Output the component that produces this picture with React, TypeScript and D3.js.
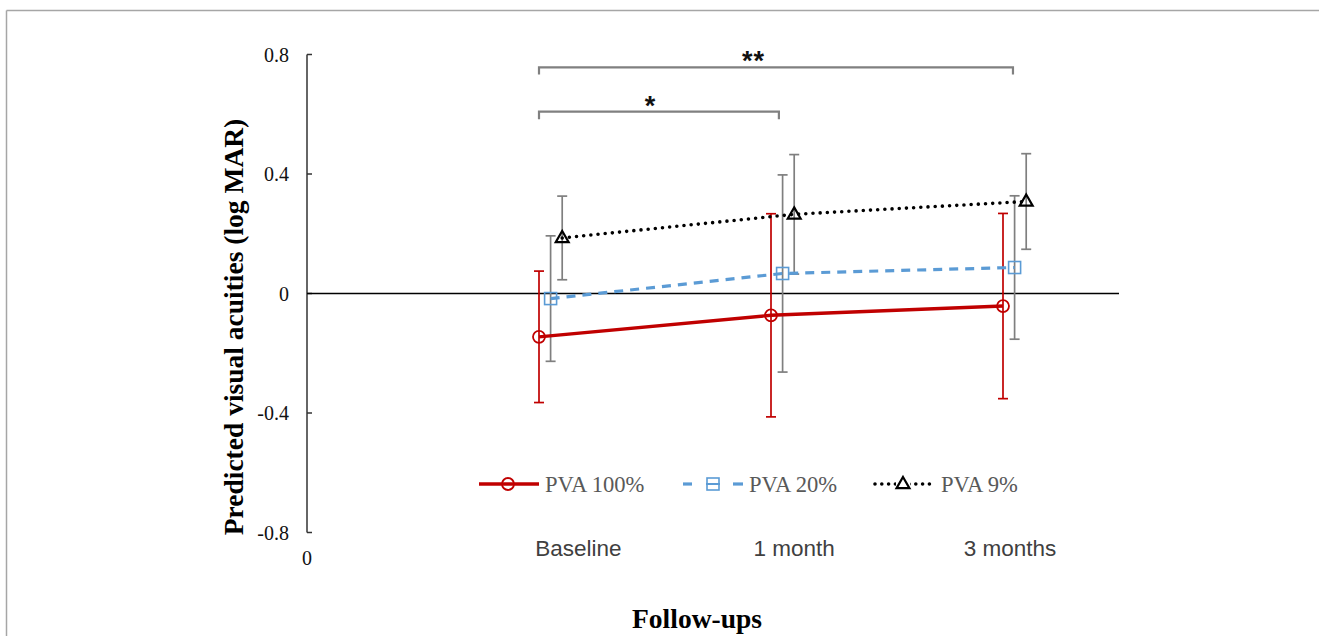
import React from 'react';
import * as d3 from 'd3';

const categories = ['Baseline', '1 month', '3 months'];
const categoryX = [1, 2, 3];
const categoryLabelX = [1.17, 2.1, 3.03];

const seriesNames = ['PVA 100%', 'PVA 20%', 'PVA 9%'];
const pva100Mean = [-0.145, -0.073, -0.042];
const pva100Err = [0.22, 0.34, 0.31];
const pva20Mean = [-0.017, 0.067, 0.087];
const pva20Err = [0.21, 0.33, 0.24];
const pva9Mean = [0.186, 0.265, 0.308];
const pva9Err = [0.14, 0.2, 0.16];
const seriesOffset = [0, 0.05, 0.1];

const yTicks = [-0.8, -0.4, 0, 0.4, 0.8];

// significance brackets: x from/to, y of bar, y of the end drops, label
const bracketFrom = [1, 1];
const bracketTo = [3.043, 2.034];
const bracketY = [0.757, 0.609];
const bracketEndY = [0.733, 0.583];
const bracketLabel = ['**', '*'];
const bracketLabelX = [1.925, 1.478];
const bracketLabelY = [0.8, 0.648];

const width = 1319;
const height = 636;

const x = d3.scaleLinear().domain([0, 3.5]).range([307, 1119]);
const y = d3.scaleLinear().domain([-0.8, 0.8]).range([532.5, 54.5]);

const styles = [
  { color: '#C00000', bar: '#C00000', dash: undefined as string | undefined, cap: 'butt', w: 3.4 },
  { color: '#5B9BD5', bar: '#7F7F7F', dash: '9 7', cap: 'butt', w: 3.2 },
  { color: '#000000', bar: '#7F7F7F', dash: '0 7.2', cap: 'round', w: 3.6 },
];

const serif = '"Liberation Serif", "Times New Roman", serif';
const sans = '"Liberation Sans", Arial, sans-serif';

function Marker({ kind, cx, cy, color }: { kind: number; cx: number; cy: number; color: string }) {
  if (kind === 0) return <circle cx={cx} cy={cy} r={6} fill="none" stroke={color} strokeWidth={1.8} />;
  if (kind === 1) return <rect x={cx - 6} y={cy - 6} width={12} height={12} fill="none" stroke={color} strokeWidth={1.6} />;
  const sym = d3.symbol(d3.symbolTriangle, 72)();
  return <path d={sym || ''} transform={`translate(${cx},${cy + 0.5})`} fill="none" stroke={color} strokeWidth={2.2} />;
}

export default function App() {
  const series = [
    { name: seriesNames[0], mean: pva100Mean, err: pva100Err },
    { name: seriesNames[1], mean: pva20Mean, err: pva20Err },
    { name: seriesNames[2], mean: pva9Mean, err: pva9Err },
  ];

  const line = d3.line<[number, number]>().x(d => x(d[0])).y(d => y(d[1]));
  const fmt = (t: number) => (t === 0 ? '0' : d3.format('.1f')(t).replace('\u2212', '-'));

  return (
    <div style={{ position: 'absolute', left: 0, top: 0 }}>
      <svg width={width} height={height} style={{ display: 'block', background: '#fff' }}>
        {/* frame */}
        <line x1={6.5} x2={width} y1={10.5} y2={10.5} stroke="#a6a6a6" strokeWidth={1.5} />
        <line x1={6.5} x2={6.5} y1={10.5} y2={height} stroke="#a6a6a6" strokeWidth={1.5} />

        {/* y axis */}
        <line x1={x(0)} x2={x(0)} y1={y(0.8)} y2={y(-0.8)} stroke="#333" strokeWidth={1.5} />
        {yTicks.map(t => (
          <g key={t}>
            <line x1={x(0)} x2={x(0) + 5} y1={y(t)} y2={y(t)} stroke="#333" strokeWidth={1.5} />
            <text x={x(0) - 18} y={y(t)} dy="0.35em" textAnchor="end" fontFamily={serif} fontSize={20} fill="#111">
              {fmt(t)}
            </text>
          </g>
        ))}
        {/* zero line */}
        <line x1={x(0)} x2={x(3.5)} y1={y(0)} y2={y(0)} stroke="#000" strokeWidth={1.7} />
        <text x={x(0)} y={558} dy="0.35em" textAnchor="middle" fontFamily={serif} fontSize={20} fill="#111">0</text>

        {/* category labels */}
        {categories.map((c, i) => (
          <text key={c} x={x(categoryLabelX[i])} y={548} dy="0.35em" textAnchor="middle" fontFamily={sans} fontSize={22.5} fill="#404040">
            {c}
          </text>
        ))}

        {/* brackets */}
        {bracketLabel.map((lab, i) => (
          <g key={i}>
            <path
              d={`M${x(bracketFrom[i])},${y(bracketEndY[i])}V${y(bracketY[i])}H${x(bracketTo[i])}V${y(bracketEndY[i])}`}
              fill="none"
              stroke="#808080"
              strokeWidth={2.2}
            />
            <text x={x(bracketLabelX[i])} y={y(bracketLabelY[i]) + 15} textAnchor="middle" fontFamily={sans} fontWeight="bold" fontSize={27} letterSpacing={lab.length > 1 ? 1 : 0} fill="#111">
              {lab}
            </text>
          </g>
        ))}

        {/* error bars */}
        {series.map((s, si) => (
          <g key={s.name + 'err'}>
            {s.mean.map((m, i) => {
              const cx = x(categoryX[i] + seriesOffset[si]);
              const y1 = y(m + s.err[i]);
              const y2 = y(m - s.err[i]);
              return (
                <g key={i} stroke={styles[si].bar} strokeWidth={1.7}>
                  <line x1={cx} x2={cx} y1={y1} y2={y2} />
                  <line x1={cx - 5} x2={cx + 5} y1={y1} y2={y1} />
                  <line x1={cx - 5} x2={cx + 5} y1={y2} y2={y2} />
                </g>
              );
            })}
          </g>
        ))}

        {/* series lines and markers */}
        {series.map((s, si) => {
          const pts: [number, number][] = s.mean.map((m, i) => [categoryX[i] + seriesOffset[si], m]);
          return (
            <g key={s.name}>
              <path
                d={line(pts) || ''}
                fill="none"
                stroke={styles[si].color}
                strokeWidth={styles[si].w}
                strokeDasharray={styles[si].dash}
                strokeLinecap={styles[si].cap as any}
              />
              {pts.map((p, i) => (
                <Marker key={i} kind={si} cx={x(p[0])} cy={y(p[1])} color={styles[si].color} />
              ))}
            </g>
          );
        })}

        {/* y title */}
        <text transform="translate(233,327) rotate(-90)" textAnchor="middle" dy="0.35em" fontFamily={serif} fontWeight="bold" fontSize={27.5} fill="#000">
          Predicted visual acuities (log MAR)
        </text>
        {/* x title */}
        <text x={697} y={628} textAnchor="middle" fontFamily={serif} fontWeight="bold" fontSize={27.5} fill="#000">
          Follow-ups
        </text>

        {/* legend */}
        <g>
          <line x1={479} x2={539} y1={484} y2={484} stroke={styles[0].color} strokeWidth={3.4} />
          <Marker kind={0} cx={508} cy={484} color={styles[0].color} />
          <text x={545} y={484} dy="0.35em" fontFamily={serif} fontSize={22.6} fill="#595959">{seriesNames[0]}</text>

          <line x1={683} x2={692} y1={484} y2={484} stroke={styles[1].color} strokeWidth={3.2} />
          <line x1={733} x2={743} y1={484} y2={484} stroke={styles[1].color} strokeWidth={3.2} />
          <Marker kind={1} cx={713} cy={484} color={styles[1].color} />
          <line x1={706} x2={720} y1={484} y2={484} stroke={styles[1].color} strokeWidth={2} />
          <text x={749} y={484} dy="0.35em" fontFamily={serif} fontSize={22.6} fill="#595959">{seriesNames[1]}</text>

          <line x1={875} x2={935} y1={484} y2={484} stroke={styles[2].color} strokeWidth={3.6} strokeDasharray="0 6.8" strokeLinecap="round" />
          <rect x={896} y={476} width={14} height={14} fill="#fff" />
          <Marker kind={2} cx={903} cy={484} color={styles[2].color} />
          <text x={941} y={484} dy="0.35em" fontFamily={serif} fontSize={22.6} fill="#595959">{seriesNames[2]}</text>
        </g>
      </svg>
    </div>
  );
}
